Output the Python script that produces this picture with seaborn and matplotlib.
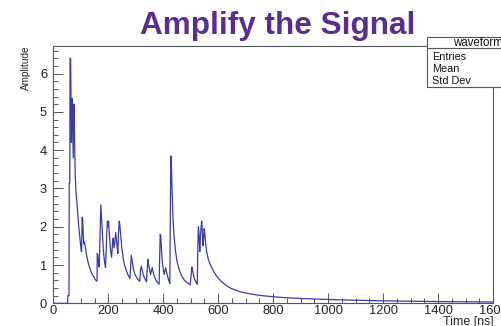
import matplotlib
matplotlib.use("Agg")
import matplotlib.pyplot as plt
from matplotlib.patches import Rectangle
from matplotlib.lines import Line2D
from matplotlib.ticker import MultipleLocator
import seaborn as sns
import pandas as pd

# ---- data ----
time_ns = [0, 52, 53, 57, 58, 60, 61, 63, 64, 66, 67, 69, 71, 72.5, 74, 76, 78, 80, 82, 85,
           88, 92, 97, 101, 103, 105, 107, 109, 111, 113, 116, 120, 125, 130, 135, 140, 146,
           152, 157, 159, 160, 162, 165, 167, 169, 171, 173, 175, 178, 182, 186, 190, 192,
           195, 197, 199, 201, 204, 208, 212, 214, 216, 218, 221, 224, 227, 229, 232, 235,
           237, 240, 242, 245, 250, 255, 260, 266, 272, 279, 281, 284, 287, 292, 298, 305,
           313, 315, 317, 320, 323, 328, 334, 339, 341, 344, 347, 351, 354, 357, 360, 363,
           368, 374, 380, 385, 387, 389, 391, 394, 397, 401, 404, 406, 409, 412, 416, 420,
           424, 426, 428, 430, 432, 435, 439, 444, 450, 458, 467, 477, 488, 498, 501, 504,
           507, 511, 516, 521, 524, 526, 528, 530, 533, 535, 538, 540, 542, 545, 547, 549,
           551, 554, 558, 564, 572, 582, 595, 610, 630, 650, 680, 720, 760, 800, 850, 900,
           1000, 1100, 1200, 1300, 1400, 1500, 1600]
amplitude = [0, 0, 0.2, 0.2, 3.15, 3.15, 6.4, 6.4, 5.6, 4.2, 5.0, 5.35, 4.5, 3.8, 5.2, 5.2,
             4.0, 3.3, 3.0, 2.7, 2.45, 2.05, 1.7, 1.4, 1.35, 2.25, 2.2, 1.8, 1.55, 1.6, 1.5,
             1.3, 1.12, 0.98, 0.87, 0.78, 0.7, 0.63, 0.58, 0.58, 1.3, 1.25, 1.0, 0.95, 1.5,
             2.1, 2.57, 2.3, 1.9, 1.4, 1.1, 0.93, 1.3, 1.9, 2.15, 2.0, 2.15, 1.8, 1.4, 1.2,
             1.4, 1.65, 1.7, 1.45, 1.6, 1.85, 1.7, 1.5, 1.3, 1.8, 2.15, 2.05, 1.8, 1.4, 1.15,
             0.98, 0.85, 0.74, 0.65, 0.9, 1.25, 1.1, 0.88, 0.74, 0.65, 0.58, 0.58, 0.85, 0.97,
             0.88, 0.73, 0.64, 0.56, 0.8, 1.15, 1.0, 0.85, 0.75, 0.85, 0.93, 0.82, 0.7, 0.6,
             0.54, 0.5, 1.2, 1.8, 1.75, 1.35, 1.05, 0.85, 0.75, 0.85, 0.93, 0.82, 0.7, 0.6,
             0.52, 2.5, 3.85, 3.6, 3.0, 2.3, 1.8, 1.4, 1.1, 0.88, 0.72, 0.6, 0.53, 0.48, 0.7,
             0.95, 0.85, 0.7, 0.6, 0.53, 0.5, 1.5, 2.0, 1.85, 1.35, 1.7, 2.0, 2.15, 1.9, 1.5,
             1.7, 1.95, 1.85, 1.6, 1.35, 1.15, 1.0, 0.85, 0.7, 0.58, 0.46, 0.38, 0.3, 0.24,
             0.2, 0.17, 0.145, 0.125, 0.10, 0.08, 0.065, 0.055, 0.045, 0.04, 0.035]
x_ticks = [0, 200, 400, 600, 800, 1000, 1200, 1400, 1600]
y_ticks = [0, 1, 2, 3, 4, 5, 6]
title_text = "Amplify the Signal"
stat_title = "waveform"
stat_rows = ["Entries", "Mean", "Std Dev"]

sns.set_style("ticks")
plt.rcParams["font.family"] = ["Liberation Sans", "DejaVu Sans"]

W, H = 501, 326
fig = plt.figure(figsize=(W / 100, H / 100), dpi=100)
fig.patch.set_facecolor("white")

def fx(px):
    return px / W

def fy(py):
    return 1 - py / H

ax = fig.add_axes([fx(53.3), fy(303.3), fx(493) - fx(53.3), fy(46) - fy(303.3)])
df = pd.DataFrame({"Time": time_ns, "Amplitude": amplitude})
sns.lineplot(data=df, x="Time", y="Amplitude", ax=ax, color="#3a3aac",
             linewidth=0.9, estimator=None, sort=False)

ax.set_xlim(0, 1600)
ax.set_ylim(0, 6.72)
ax.set_xticks(x_ticks)
ax.set_xticklabels([str(v) for v in x_ticks])
ax.set_yticks(y_ticks)
ax.set_yticklabels([str(v) for v in y_ticks])
ax.xaxis.set_minor_locator(MultipleLocator(50))
ax.yaxis.set_minor_locator(MultipleLocator(0.2))
ax.set_xlabel("")
ax.set_ylabel("")
for s in ax.spines.values():
    s.set_visible(True)
    s.set_color("#555555")
    s.set_linewidth(0.8)
ax.tick_params(axis="both", which="both", direction="in", color="#555555",
               top=False, right=False, width=0.7)
ax.tick_params(axis="both", which="major", length=7, labelsize=9.3, labelcolor="#222222")
ax.tick_params(axis="both", which="minor", length=3.5)
ax.tick_params(axis="x", which="major", pad=1.5)
ax.tick_params(axis="y", which="major", pad=4.5)
ax.set_facecolor("white")

# title
fig.text(fx(277.5), fy(34.3), title_text, ha="center", va="baseline",
         fontsize=22.7, fontweight="bold", color="#5a2d91")

# axis titles
fig.text(fx(26), fy(45), "Amplitude", rotation=90, ha="center", va="top",
         fontsize=7.2, color="#222222")
fig.text(fx(494), fy(325.5), "Time [ns]", ha="right", va="baseline",
         fontsize=8.9, color="#222222")

# stat box (clipped by the figure's right edge)
box = Rectangle((fx(427), fy(86.7)), fx(560) - fx(427), fy(37.3) - fy(86.7),
                transform=fig.transFigure, facecolor="white", edgecolor="#555555",
                linewidth=0.8, zorder=5)
fig.add_artist(box)
fig.add_artist(Line2D([fx(427), fx(560)], [fy(48), fy(48)], transform=fig.transFigure,
                      color="#555555", linewidth=0.8, zorder=6))
fig.text(fx(453), fy(43), stat_title, ha="left", va="center", fontsize=8.3,
         color="#111111", zorder=7)
for i, r in enumerate(stat_rows):
    fig.text(fx(432), fy(56.5 + 12 * i), r, ha="left", va="center", fontsize=7.8,
             color="#111111", zorder=7)

fig.savefig("out.png", dpi=100)
